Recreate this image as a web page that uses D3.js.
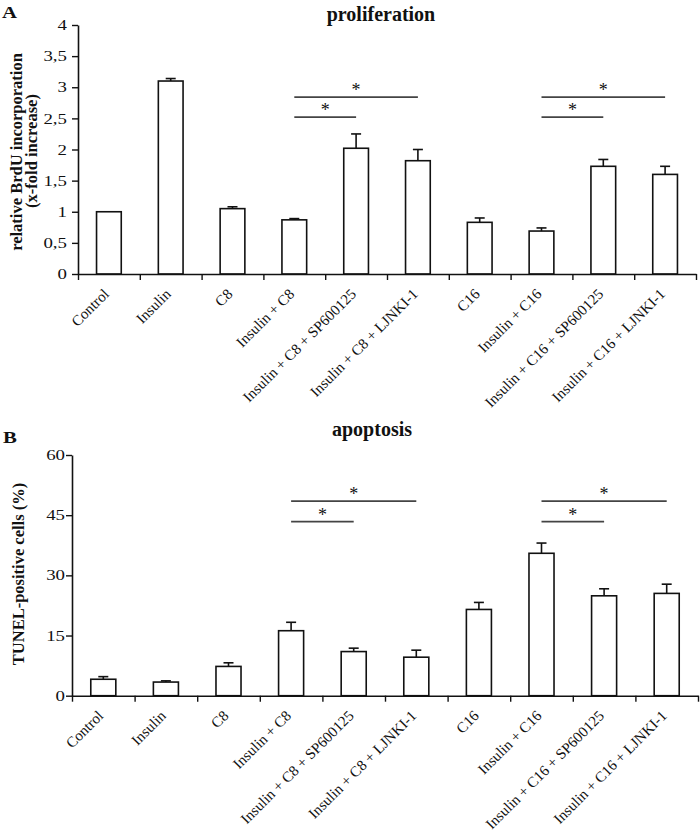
<!DOCTYPE html>
<html>
<head>
<meta charset="utf-8">
<script src="https://cdn.jsdelivr.net/npm/d3@7"></script>
<style>
  html, body { margin: 0; padding: 0; background: #fff; }
  svg { display: block; }
  text { font-family: "Liberation Serif", "Times New Roman", serif; fill: #111; }
</style>
</head>
<body>
<svg id="chart" width="700" height="834"></svg>
<script>
// ---------- data ----------
const categories = ["Control", "Insulin", "C8", "Insulin + C8", "Insulin + C8 + SP600125",
  "Insulin + C8 + LJNKI-1", "C16", "Insulin + C16", "Insulin + C16 + SP600125", "Insulin + C16 + LJNKI-1"];

const brduMean = [1.00, 3.10, 1.05, 0.87, 2.02, 1.82, 0.83, 0.69, 1.73, 1.60];
const brduErr  = [0.00, 0.04, 0.03, 0.02, 0.23, 0.18, 0.07, 0.05, 0.11, 0.13];
const brduTicks = [0, 0.5, 1, 1.5, 2, 2.5, 3, 3.5, 4];
const brduSig = [[3, 4, 2.52], [3, 5, 2.84], [7, 8, 2.52], [7, 9, 2.84]];

const tunelMean = [4.1, 3.4, 7.3, 16.2, 11.0, 9.6, 21.5, 35.5, 24.9, 25.5];
const tunelErr  = [0.65, 0.3, 0.9, 2.1, 0.85, 1.75, 1.75, 2.55, 1.75, 2.3];
const tunelTicks = [0, 15, 30, 45, 60];
const tunelSig = [[3, 4, 43.4], [3, 5, 48.5], [7, 8, 43.4], [7, 9, 48.5]];

const svg = d3.select("#chart");
const commaFmt = v => String(v).replace(".", ",");
const SERIF = "'Liberation Serif', 'Times New Roman', serif";

function panel(opts) {
  const { left, right, top, bottom, domainMax, ticks, mean, err, sig, letter, letterPos,
          title, titlePos, ylabel, tickFmt, tickGap } = opts;
  const g = svg.append("g");
  const x = d3.scaleBand().domain(categories).range([left, right]).paddingInner(0).paddingOuter(0);
  const xb = d3.scaleLinear().domain([0, categories.length]).range([left, right]);
  const y = d3.scaleLinear().domain([0, domainMax]).range([bottom, top]);
  const bw = x.bandwidth() * 0.4;
  const cx = i => x(categories[i]) + x.bandwidth() / 2;

  // bars
  g.selectAll("rect.bar").data(mean).join("rect")
    .attr("class", "bar")
    .attr("x", (d, i) => cx(i) - bw / 2)
    .attr("y", d => y(d))
    .attr("width", bw)
    .attr("height", d => y(0) - y(d))
    .attr("fill", "#fff").attr("stroke", "#111").attr("stroke-width", 1.6);

  // error bars
  mean.forEach((d, i) => {
    if (err[i] <= 0) return;
    g.append("line").attr("x1", cx(i)).attr("x2", cx(i)).attr("y1", y(d)).attr("y2", y(d + err[i]))
      .attr("stroke", "#111").attr("stroke-width", 1.6);
    g.append("line").attr("x1", cx(i) - 5).attr("x2", cx(i) + 5).attr("y1", y(d + err[i])).attr("y2", y(d + err[i]))
      .attr("stroke", "#111").attr("stroke-width", 1.6);
  });

  // y axis
  const ya = g.append("g").attr("transform", `translate(${left},0)`)
    .call(d3.axisLeft(y).tickValues(ticks).tickFormat(tickFmt).tickSize(6).tickSizeOuter(0));
  ya.attr("font-family", null);
  ya.select(".domain").attr("stroke", "#111").attr("stroke-width", 1.6);
  ya.selectAll(".tick line").attr("stroke", "#111").attr("stroke-width", 1.4);
  ya.selectAll(".tick text").attr("x", 0)
    .attr("transform", `translate(${-tickGap},0) scale(1.3,1)`)
    .style("font-family", SERIF).style("font-size", "14.5px").attr("fill", "#111");

  // x axis (ticks on category boundaries)
  const xa = g.append("g").attr("transform", `translate(0,${bottom})`)
    .call(d3.axisBottom(xb).tickValues(d3.range(categories.length + 1)).tickFormat("").tickSize(6).tickSizeOuter(0));
  xa.select(".domain").attr("stroke", "#111").attr("stroke-width", 1.6);
  xa.selectAll(".tick line").attr("stroke", "#111").attr("stroke-width", 1.4);

  // category labels
  g.selectAll("text.cat").data(categories).join("text")
    .attr("class", "cat")
    .attr("text-anchor", "end")
    .attr("transform", (d, i) => `translate(${cx(i) + 1},${bottom + 21}) rotate(-45)`)
    .style("font-size", "15px")
    .text(d => d);

  // significance lines
  sig.forEach(([a, b, v]) => {
    g.append("line").attr("x1", cx(a)).attr("x2", cx(b)).attr("y1", y(v)).attr("y2", y(v))
      .attr("stroke", "#444").attr("stroke-width", 1.8);
    g.append("text").attr("x", (cx(a) + cx(b)) / 2).attr("y", y(v) - 1)
      .attr("text-anchor", "middle").style("font-size", "18px").text("*");
  });

  // panel letter
  g.append("text").attr("transform", `translate(${letterPos[0]},${letterPos[1]}) scale(1.3,1)`)
    .style("font-size", "16px").style("font-weight", "bold").text(letter);

  // title
  g.append("text").attr("x", titlePos[0]).attr("y", titlePos[1]).attr("text-anchor", "middle")
    .style("font-size", "20px").style("font-weight", "bold").text(title);

  // y label
  ylabel.forEach(([txt, bx, cy]) => {
    g.append("text").attr("transform", `translate(${bx},${cy}) rotate(-90)`)
      .attr("text-anchor", "middle").style("font-size", "16.5px").style("font-weight", "bold").text(txt);
  });
}

panel({
  left: 78, right: 696, top: 25, bottom: 274, domainMax: 4, ticks: brduTicks,
  mean: brduMean, err: brduErr, sig: brduSig, letter: "A", letterPos: [2, 17.5],
  title: "proliferation", titlePos: [381, 20.5],
  ylabel: [["relative BrdU incorporation", 22, 152], ["(x-fold increase)", 37, 151]],
  tickFmt: commaFmt, tickGap: 11
});

panel({
  left: 72, right: 698, top: 455, bottom: 695.7, domainMax: 60, ticks: tunelTicks,
  mean: tunelMean, err: tunelErr, sig: tunelSig, letter: "B", letterPos: [3, 443],
  title: "apoptosis", titlePos: [372, 436],
  ylabel: [["TUNEL-positive cells (%)", 24, 574]],
  tickFmt: d3.format("d"), tickGap: 7
});
</script>
</body>
</html>
